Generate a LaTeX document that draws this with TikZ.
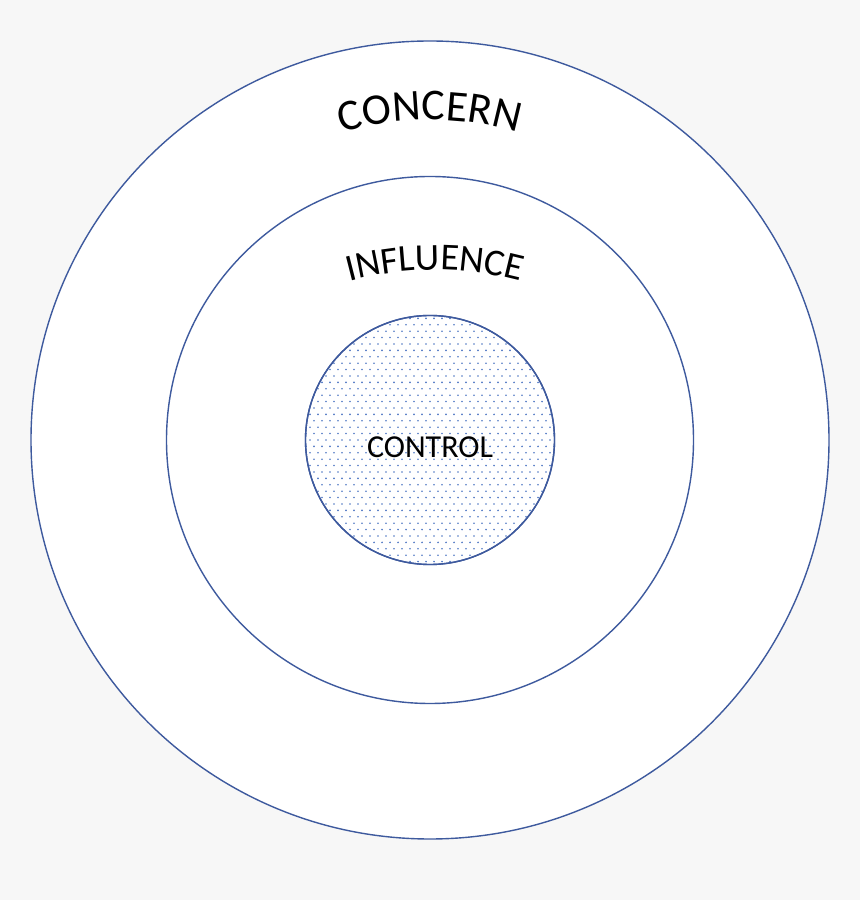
\documentclass[tikz,border=0pt]{standalone}
\usepackage{fontspec}
\setmainfont{Carlito}
\usetikzlibrary{decorations.text,calc}
\definecolor{bgcol}{RGB}{247,247,247}
\definecolor{ringcol}{RGB}{62,90,158}
\definecolor{dotcol}{RGB}{80,120,196}
\tikzset{
  ring/.style={circle, draw=ringcol, line width=1.4pt, fill=white, inner sep=0pt},
  dotmark/.style={fill=dotcol, draw=none},
}
\begin{document}
\begin{tikzpicture}[x=1pt,y=1pt]
  \fill[bgcol] (0,0) rectangle (860,900);
  \useasboundingbox (0,0) rectangle (860,900);
  \coordinate (c) at (430,460);
  \node[ring, minimum size=798pt] (concern) at (c) {};
  \node[ring, minimum size=527pt] (influence) at (c) {};
  \node[ring, minimum size=249pt] (control) at (c) {};
  % dotted fill of the inner circle
  \begin{scope}
    \clip (c) circle (124pt);
    \foreach \i in {-20,...,20}{
      \pgfmathsetmacro{\off}{mod(abs(\i),2)*4}
      \foreach \j in {-16,...,16}{
        \fill[dotmark] ($(c)+(\j*8+\off,\i*6.4)$) circle (0.9pt);
      }
    }
  \end{scope}
  \draw[ringcol, line width=1.4pt] (c) circle (124.5pt);
  % curved labels
  \coordinate (cc) at (430,460);
  \path[decorate, decoration={text along path, text align=center,
      text format delimiters={|}{|},
      text={|\fontsize{44}{44}\selectfont|CONCERN}}]
    ($(cc)+(120:320)$) arc[start angle=120, end angle=60, radius=320];
  \coordinate (ic) at (435,300);
  \path[decorate, decoration={text along path, text align=center,
      text format delimiters={|}{|},
      text={|\fontsize{38}{38}\selectfont|INFLUENCE}}]
    ($(ic)+(115:330)$) arc[start angle=115, end angle=65, radius=330];
  \node[font=\fontsize{32}{32}\selectfont, inner sep=0pt] (controltext) at (430,453) {CONTROL};
\end{tikzpicture}
\end{document}
